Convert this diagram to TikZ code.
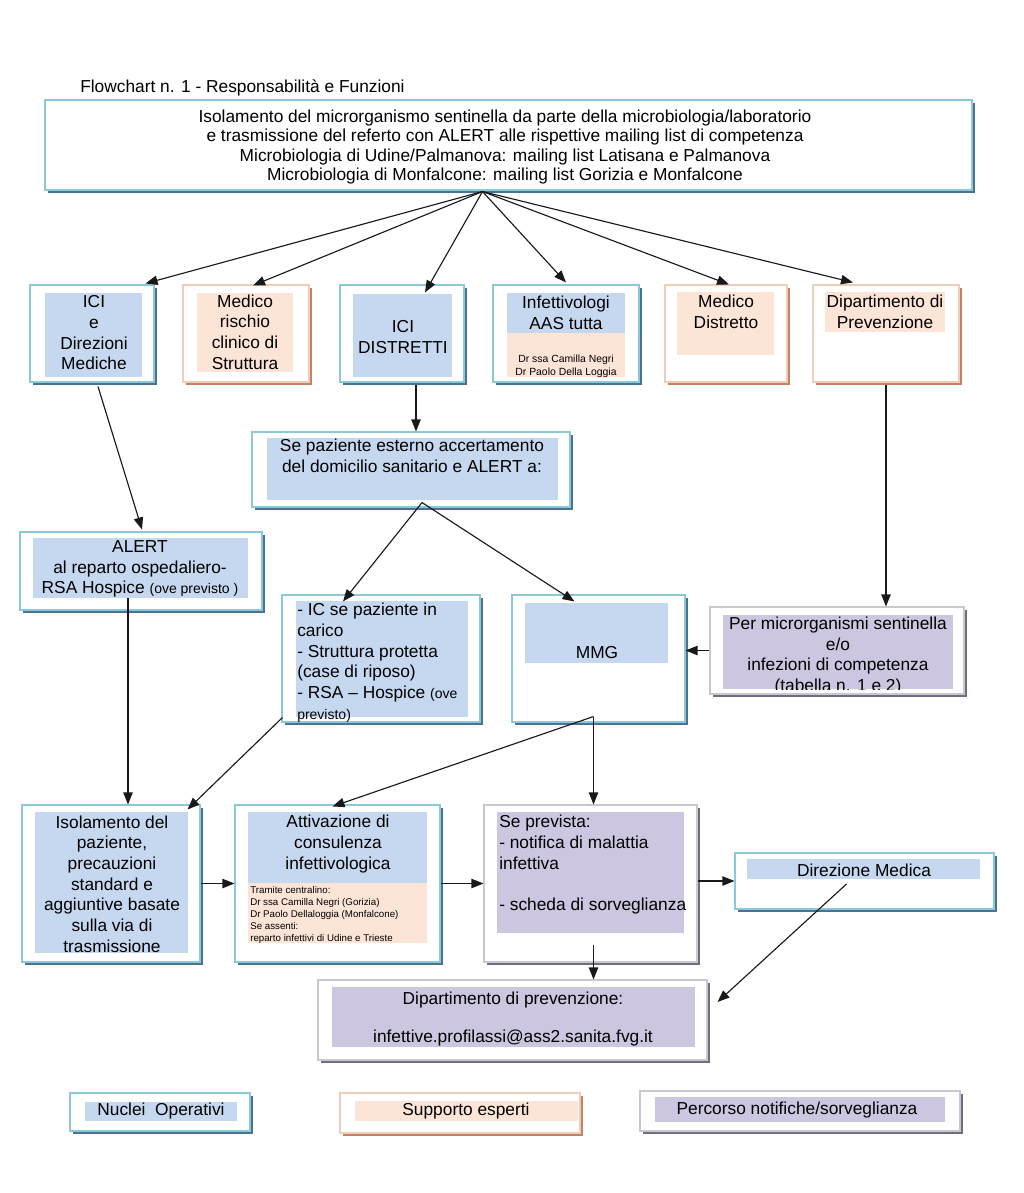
\documentclass[tikz,border=0pt]{standalone}
\usepackage{fontspec}
\setmainfont{Liberation Sans}
\usetikzlibrary{arrows.meta,calc,fit,shadows}
\definecolor{blueF}{RGB}{198,216,240}
\definecolor{peachF}{RGB}{252,228,214}
\definecolor{purpF}{RGB}{204,198,224}
\definecolor{bordB}{RGB}{140,200,215}
\definecolor{shB}{RGB}{75,115,145}
\definecolor{bordP}{RGB}{240,205,185}
\definecolor{shP}{RGB}{195,130,100}
\definecolor{bordV}{RGB}{200,200,212}
\definecolor{shV}{RGB}{110,110,125}
\tikzset{
  frB/.style={draw=bordB, line width=0.8pt, fill=white, inner sep=0pt,
    drop shadow={shadow xshift=2.2pt, shadow yshift=-2.2pt, fill=shB, opacity=1}},
  frP/.style={draw=bordP, line width=0.8pt, fill=white, inner sep=0pt,
    drop shadow={shadow xshift=2.2pt, shadow yshift=-2.2pt, fill=shP, opacity=1}},
  frV/.style={draw=bordV, line width=0.8pt, fill=white, inner sep=0pt,
    drop shadow={shadow xshift=2.2pt, shadow yshift=-2.2pt, fill=shV, opacity=1}},
  inB/.style={fill=blueF, inner sep=0pt},
  inP/.style={fill=peachF, inner sep=0pt},
  inV/.style={fill=purpF, inner sep=0pt},
  txt/.style={font=\fontsize{13}{15.5}\selectfont, align=center, inner sep=0pt},
  txtl/.style={font=\fontsize{13}{15.5}\selectfont, align=left, inner sep=0pt},
  tiny/.style={font=\fontsize{7.3}{9}\selectfont, inner sep=0pt},
  nar/.style={font=\fontsize{13}{14.6}\selectfont, align=center, inner sep=0pt},
  arr/.style={draw=black!90, line width=0.85pt, -{Triangle[length=9pt,width=7pt]}},
  ln/.style={draw=black!90, line width=0.85pt}
}
\begin{document}
\begin{tikzpicture}[x=0.75pt,y=-0.75pt]
\useasboundingbox[fill=white] (0,0) rectangle (1024,1193);

% title
\node[nar, anchor=west] (title) at (80,88) {Flowchart n. 1 - Responsabilità e Funzioni};

% top box
\node[frB, fit={(45,100)(972,190)}] (top) {};
\node[nar] (topT) at (505,147) {Isolamento del microrganismo sentinella da parte della microbiologia/laboratorio\\
e trasmissione del referto con ALERT alle rispettive mailing list di competenza\\
Microbiologia di Udine/Palmanova: mailing list Latisana e Palmanova\\
Microbiologia di Monfalcone: mailing list Gorizia e Monfalcone};

% row 2
\node[frB, fit={(30,285)(154,382)}] (ici) {};
\node[inB, fit={(45,293)(142,377)}] (iciF) {};
\node[txt] (iciT) at (94,333) {ICI\\e\\Direzioni\\Mediche};

\node[frP, fit={(183,285)(309,382)}] (medr) {};
\node[inP, fit={(197,293)(293,372)}] (medrF) {};
\node[txt] (medrT) at (245,332) {Medico\\rischio\\clinico di\\Struttura};

\node[frB, fit={(340,285)(464,382)}] (icid) {};
\node[inB, fit={(353,294)(452,377)}] (icidF) {};
\node[txt] (icidT) at (403,337) {ICI\\DISTRETTI};

\node[frB, fit={(493,285)(639,382)}] (inf) {};
\node[inB, fit={(507,293)(625,333)}] (infF) {};
\node[inP, fit={(507,333)(625,377)}] (infG) {};
\node[txt] (infT) at (566,313) {Infettivologi\\AAS tutta};
\node[tiny, align=center, font=\fontsize{7.8}{9.5}\selectfont] (infS) at (566,366) {Dr ssa Camilla Negri\\Dr Paolo Della Loggia};

\node[frP, fit={(665,285)(787,382)}] (medd) {};
\node[inP, fit={(677,292)(774,355)}] (meddF) {};
\node[txt] (meddT) at (726,312) {Medico\\Distretto};

\node[frP, fit={(813,285)(959,382)}] (dip) {};
\node[inP, fit={(825,292)(945,332)}] (dipF) {};
\node[txt] (dipT) at (885,312) {Dipartimento di\\Prevenzione};

% row 3
\node[frB, fit={(252,432)(570,507)}] (sep) {};
\node[inB, fit={(267,438)(558,500)}] (sepF) {};
\node[txt] (sepT) at (412,456) {Se paziente esterno accertamento\\del domicilio sanitario e ALERT a:};

\node[frB, fit={(20,532)(262,610)}] (alert) {};
\node[inB, fit={(33,538)(248,598)}] (alertF) {};
\node[txt] (alertT) at (140,569) {ALERT\\al reparto ospedaliero-\\RSA Hospice {\fontsize{10.5}{12}\selectfont (ove previsto )}};

\node[frB, fit={(282,595)(480,722)}] (ic) {};
\node[inB, fit={(296,601)(468,717)}] (icF) {};
\node[txtl, anchor=north west] (icT) at (297,603) {- IC se paziente in\\carico\\- Struttura protetta\\(case di riposo)\\- RSA -- Hospice {\fontsize{10.5}{12}\selectfont (ove}\\{\fontsize{10.5}{12}\selectfont previsto)}};

\node[frB, fit={(512,595)(685,722)}] (mmg) {};
\node[inB, fit={(525,603)(668,663)}] (mmgF) {};
\node[txt] (mmgT) at (597,653) {MMG};

\node[frV, fit={(710,607)(964,694)}] (per) {};
\node[inV, fit={(723,615)(953,689)}] (perF) {};
\begin{scope}
\clip (723,615) rectangle (953,689);
\node[txt, anchor=north, font=\fontsize{13}{15.3}\selectfont] (perT) at (838,617) {Per microrganismi sentinella\\e/o\\infezioni di competenza\\(tabella n. 1 e 2)};
\end{scope}

% row 4
\node[frB, fit={(22,805)(200,962)}] (iso) {};
\node[inB, fit={(35,812)(188,953)}] (isoF) {};
\node[txt] (isoT) at (112,884) {Isolamento del\\paziente,\\precauzioni\\standard e\\aggiuntive basate\\sulla via di\\trasmissione};

\node[frB, fit={(235,805)(440,962)}] (att) {};
\node[inB, fit={(248,812)(427,883)}] (attF) {};
\node[inP, fit={(248,883)(427,943)}] (attG) {};
\node[txt] (attT) at (338,844) {Attivazione di\\consulenza\\infettivologica};
\node[tiny, align=left, anchor=north west] (attS) at (250,886) {Tramite centralino:\\Dr ssa Camilla Negri (Gorizia)\\Dr Paolo Dellaloggia (Monfalcone)\\Se assenti:\\reparto infettivi di Udine e Trieste};

\node[frV, fit={(484,805)(697,962)}] (sepr) {};
\node[inV, fit={(497,812)(684,933)}] (seprF) {};
\node[txtl, anchor=north west] (seprT) at (499,815) {Se prevista:\\- notifica di malattia\\infettiva\\[15.5pt]- scheda di sorveglianza};

\node[frB, fit={(735,853)(994,909)}] (dirm) {};
\node[inB, fit={(747,859)(980,879)}] (dirmF) {};
\node[txt] (dirmT) at (864,870) {Direzione Medica};

\node[frV, fit={(318,980)(707,1060)}] (dipp) {};
\node[inV, fit={(332,987)(695,1047)}] (dippF) {};
\node[txt] (dippT) at (513,1019) {Dipartimento di prevenzione:\\[13pt]infettive.profilassi@ass2.sanita.fvg.it};

% legend
\node[frB, fit={(70,1093)(250,1131)}] (leg1) {};
\node[inB, fit={(85,1102)(237,1121)}] (leg1F) {};
\node[nar] (leg1T) at (161,1111) {Nuclei\ \ Operativi};

\node[frP, fit={(340,1093)(580,1133)}] (leg2) {};
\node[inP, fit={(355,1101)(578,1121)}] (leg2F) {};
\node[nar] (leg2T) at (466,1111) {Supporto esperti};

\node[frV, fit={(640,1091)(960,1131)}] (leg3) {};
\node[inV, fit={(655,1097)(945,1122)}] (leg3F) {};
\node[nar] (leg3T) at (797,1110) {Percorso notifiche/sorveglianza};

% connectors
\coordinate (tsrc) at ($(top.south)+(-26,1)$);
\draw[arr] (tsrc) -- ($(ici.north east)+(-9,-1)$);
\draw[arr] (tsrc) -- ($(medr.north)+(7,1)$);
\draw[arr] (tsrc) -- ($(icid.north)+(23,8)$);
\draw[arr] (tsrc) -- ($(inf.north)+(0,-2)$);
\draw[arr] (tsrc) -- ($(medd.north)+(3,0)$);
\draw[arr] (tsrc) -- ($(dip.north)+(-33,-2)$);

\coordinate (icidOut) at ($(icid.south)+(14,2)$);
\draw[arr] (icidOut) -- (icidOut |- sep.north);
\draw[arr] ($(ici.south)+(6,4)$) -- ($(alert.north)+(1,-2)$);

\coordinate (sapex) at ($(sep.south)+(11,-5)$);
\draw[arr] (sapex) -- ($(ic.north)+(-38,7)$);
\draw[arr] (sapex) -- ($(mmg.north)+(-24,7)$);

\coordinate (dipOut) at ($(dip.south)+(0,2)$);
\draw[arr] (dipOut) -- (dipOut |- per.north);
\draw[arr] (per.west) -- (per.west -| mmg.east);

\coordinate (alOut) at ($(alert.south)+(-13,-13)$);
\draw[arr] (alOut) -- (alOut |- iso.north);
\draw[arr] ($(ic.south west)+(1,-5)$) -- ($(iso.north east)+(-13,5)$);

\coordinate (mapex) at ($(mmg.south)+(-5,-6)$);
\draw[ln] (mapex) -- ($(mmg.south)+(-5,0)$);
\draw[arr] (mapex) -- (mapex |- sepr.north);
\draw[arr] (mapex) -- ($(att.north)+(-5,2)$);

\draw[arr] (iso.east) -- (iso.east -| att.west);
\draw[arr] (att.east) -- (att.east -| sepr.west);
\draw[arr] (dirm.west -| sepr.east) -- (dirm.west);

\coordinate (seprOut) at ($(sepr.south)+(3,-18)$);
\draw[arr] (seprOut) -- (seprOut |- dipp.north);
\draw[arr] ($(dirm.center)+(-18,3)$) -- ($(dipp.east)+(10,-18)$);
\end{tikzpicture}
\end{document}
